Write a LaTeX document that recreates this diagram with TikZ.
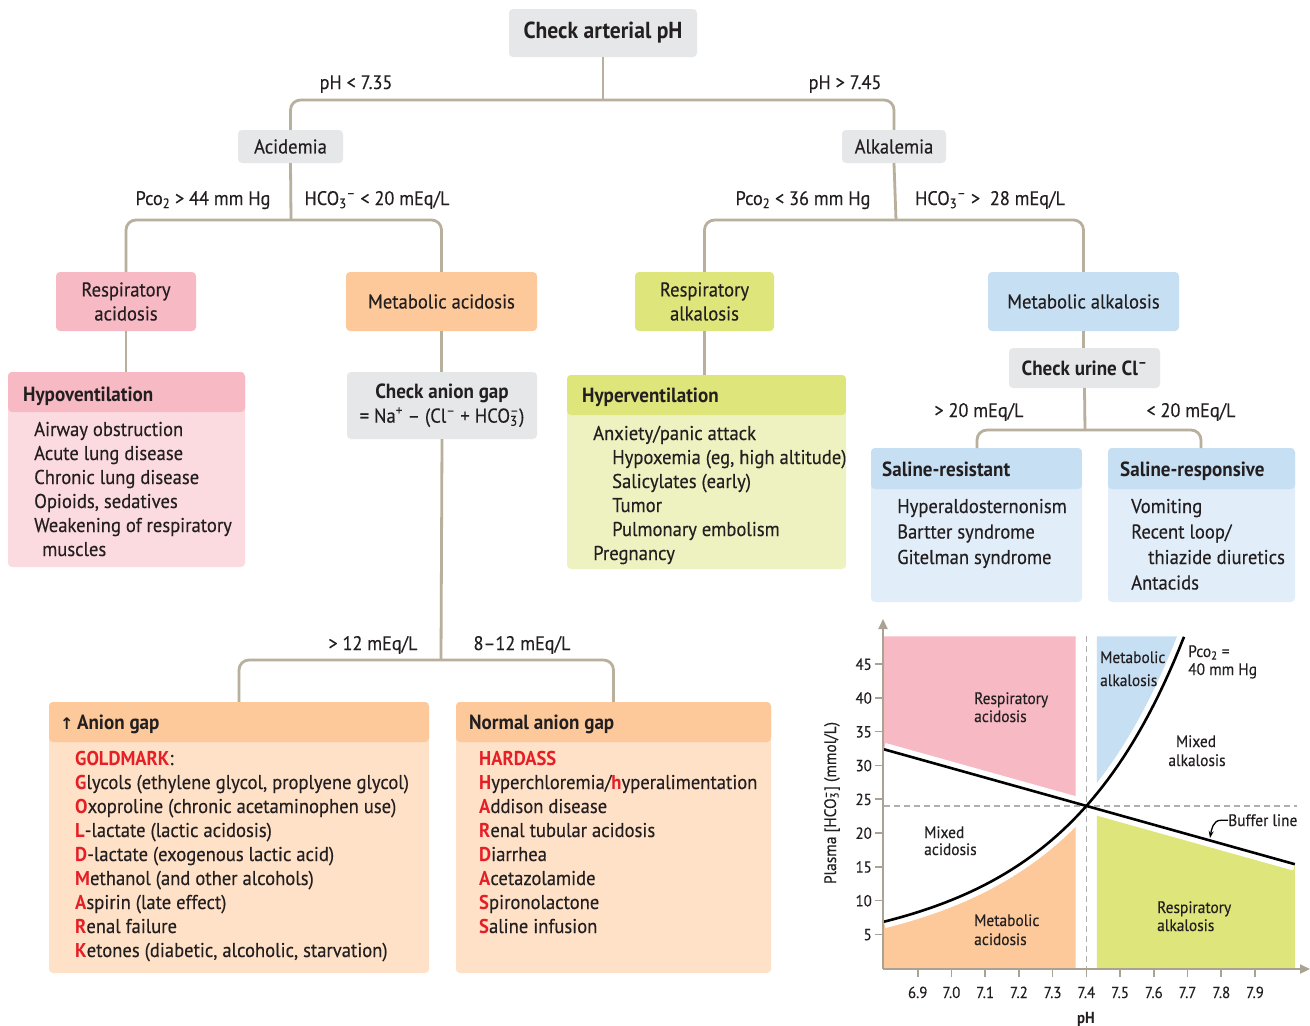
\documentclass[tikz,border=0pt]{standalone}
\usepackage{fontspec}
\setmainfont{PT Sans}[FakeStretch=0.93, UprightFeatures={FakeBold=0.3}]
\newfontfamily\symfont{DejaVu Sans}
\usetikzlibrary{arrows.meta}
\definecolor{txt}{RGB}{35,31,32}
\definecolor{boxgray}{RGB}{230,231,232}
\definecolor{connc}{RGB}{184,175,157}
\definecolor{pinkH}{RGB}{247,185,195}
\definecolor{pinkB}{RGB}{252,219,224}
\definecolor{peachH}{RGB}{253,201,154}
\definecolor{peachB}{RGB}{254,225,199}
\definecolor{limeH}{RGB}{222,229,122}
\definecolor{limeB}{RGB}{238,242,192}
\definecolor{blueH}{RGB}{198,223,243}
\definecolor{blueB}{RGB}{225,237,248}
\definecolor{redt}{RGB}{230,30,38}
\definecolor{dashg}{RGB}{175,175,175}
\definecolor{axisc}{RGB}{170,162,146}
\newcommand\R[1]{\textcolor{redt}{\bfseries #1}}
\newcommand\subsup[2]{{\setbox0\hbox{\textsubscript{#1}}\setbox2\hbox{\textsuperscript{#2}}\ifdim\wd0>\wd2 \rlap{\box2}\box0\else\rlap{\box0}\box2\fi}}
\newcommand\fTitle{\fontsize{23.2}{27}\selectfont\bfseries}
\newcommand\fBox{\fontsize{20}{24}\selectfont}
\newcommand\fLab{\fontsize{19.6}{24}\selectfont}
\newcommand\fItem{\fontsize{20}{24}\selectfont}
\newcommand\fHead{\fontsize{20.5}{24}\selectfont\bfseries}
\newcommand\fGr{\fontsize{16.6}{19}\selectfont}
\newcommand\fTick{\fontsize{16}{19}\selectfont}
\begin{document}
\begin{tikzpicture}[x=1pt,y=-1pt, every node/.style={text=txt},
  connl/.style={draw=connc, line width=2.8pt, rounded corners=10pt},
  gbox/.style={fill=boxgray, rounded corners=4pt, inner sep=0pt, align=center, font=\fBox},
  cbox/.style={rounded corners=4pt, inner sep=0pt, align=center, font=\fBox},
  listbox/.style={rounded corners=4pt, inner sep=0pt},
  hdr/.style 2 args={path picture={\fill[#1] (path picture bounding box.north west) rectangle ([yshift=-#2]path picture bounding box.north east);}},
  hd/.style={font=\fHead, inner sep=0pt},
  item/.style={font=\fItem, inner sep=0pt, anchor=base west},
  lab/.style={font=\fLab, inner sep=0pt, anchor=base},
  gl/.style={font=\fGr, inner sep=0pt, anchor=base west},
  tick/.style={font=\fTick, inner sep=0pt}
]
\useasboundingbox (0,0) rectangle (1310,1026);
\fill[white] (0,0) rectangle (1310,1026);

% ---------- top boxes ----------
\node[gbox, minimum width=188pt, minimum height=48pt, font=\fTitle] (arterial) at (603,33) {Check arterial pH};
\node[gbox, minimum width=105pt, minimum height=33pt] (acidemia) at (290.5,146.5) {Acidemia};
\node[gbox, minimum width=104pt, minimum height=33pt] (alkalemia) at (894,146.5) {Alkalemia};

\node[cbox, fill=pinkH, minimum width=140pt, minimum height=59pt] (racid) at (126,301.5) {Respiratory\\acidosis};
\node[cbox, fill=peachH, minimum width=191pt, minimum height=59pt] (macid) at (441.5,301.5) {Metabolic acidosis};
\node[cbox, fill=limeH, minimum width=139pt, minimum height=59pt] (ralk) at (704.5,301.5) {Respiratory\\alkalosis};
\node[cbox, fill=blueH, minimum width=191pt, minimum height=59pt] (malk) at (1083.5,301.5) {Metabolic alkalosis};

\node[gbox, minimum width=190pt, minimum height=67pt] (agap) at (442,405.5) {{\fHead Check anion gap}\\{\fItem = Na\textsuperscript{+} – (Cl\textsuperscript{–} + HCO\subsup{3}{–})}};

\node[gbox, minimum width=151pt, minimum height=40pt, font=\fHead] (urine) at (1084.5,368) {Check urine Cl\textsuperscript{–}};

% ---------- list boxes ----------
\node[listbox, fill=pinkB, hdr={pinkH}{40pt}, minimum width=237pt, minimum height=195pt] (hypo) at (126.5,469.5) {};
\node[hd, anchor=base west] (hypo-h) at (23,401) {Hypoventilation};
\foreach \px/\py/\t [count=\i] in {34/436/{Airway obstruction}, 34/460/{Acute lung disease}, 34/484/{Chronic lung disease}, 34/508/{Opioids, sedatives}, 34/532/{Weakening of respiratory}, 42/556/{muscles}}
  \node[item] (hypo-\i) at (\px,\py) {\t};

\node[listbox, fill=limeB, hdr={limeH}{40pt}, minimum width=279pt, minimum height=194pt] (hyper) at (706.5,472) {};
\node[hd, anchor=base west] (hyper-h) at (582,402) {Hyperventilation};
\foreach \px/\py/\t [count=\i] in {593/440/{Anxiety/panic attack}, 612/464/{Hypoxemia (eg, high altitude)}, 612/488/{Salicylates (early)}, 612/512/{Tumor}, 612/536/{Pulmonary embolism}, 593/560/{Pregnancy}}
  \node[item] (hyper-\i) at (\px,\py) {\t};

\node[listbox, fill=blueB, hdr={blueH}{41pt}, minimum width=211pt, minimum height=154pt] (sres) at (976.5,525) {};
\node[hd, anchor=base west] (sres-h) at (882,476) {Saline-resistant};
\foreach \px/\py/\t [count=\i] in {897/513/{Hyperaldosternonism}, 897/538.5/{Bartter syndrome}, 897/564/{Gitelman syndrome}}
  \node[item] (sres-\i) at (\px,\py) {\t};

\node[listbox, fill=blueB, hdr={blueH}{41pt}, minimum width=187pt, minimum height=154pt] (sresp) at (1201.5,525) {};
\node[hd, anchor=base west] (sresp-h) at (1120,476) {Saline-responsive};
\foreach \px/\py/\t [count=\i] in {1131/513/{Vomiting}, 1131/538.5/{Recent loop/}, 1148/564/{thiazide diuretics}, 1131/589.5/{Antacids}}
  \node[item] (sresp-\i) at (\px,\py) {\t};

\node[listbox, fill=peachB, hdr={peachH}{40pt}, minimum width=380pt, minimum height=271pt] (hag) at (239,837.5) {};
\node[hd, anchor=base west] (hag-h) at (60,729) {{\symfont\fontsize{16}{20}\selectfont ↑}\,Anion gap};
\foreach \py/\t [count=\i] in {765/{\R{GOLDMARK}:}, 789/{\R{G}lycols (ethylene glycol, proplyene glycol)}, 813/{\R{O}xoproline (chronic acetaminophen use)}, 837/{\R{L}-lactate (lactic acidosis)}, 861/{\R{D}-lactate (exogenous lactic acid)}, 885/{\R{M}ethanol (and other alcohols)}, 909/{\R{A}spirin (late effect)}, 933/{\R{R}enal failure}, 957/{\R{K}etones (diabetic, alcoholic, starvation)}}
  \node[item] (hag-\i) at (75,\py) {\t};

\node[listbox, fill=peachB, hdr={peachH}{40pt}, minimum width=315pt, minimum height=271pt] (nag) at (613.5,837.5) {};
\node[hd, anchor=base west] (nag-h) at (469,729) {Normal anion gap};
\foreach \py/\t [count=\i] in {765/{\R{HARDASS}}, 789/{\R{H}yperchloremia/\R{h}yperalimentation}, 813/{\R{A}ddison disease}, 837/{\R{R}enal tubular acidosis}, 861/{\R{D}iarrhea}, 885/{\R{A}cetazolamide}, 909/{\R{S}pironolactone}, 933/{\R{S}aline infusion}}
  \node[item] (nag-\i) at (479,\py) {\t};

% ---------- connectors ----------
\coordinate (j1) at (603,100);
\draw[connl] (arterial.south) -- (j1);
\draw[connl] (j1) -| (acidemia.north);
\draw[connl] (j1) -| (alkalemia.north);
\coordinate (j2) at (291,220);
\draw[connl] (acidemia.south) -- (j2);
\draw[connl] (j2) -| (racid.north);
\draw[connl] (j2) -| (macid.north);
\coordinate (j3) at (896,220);
\draw[connl] (alkalemia.south) -- (j3);
\draw[connl] (j3) -| (ralk.north);
\draw[connl] (j3) -| (malk.north);
\draw[connl] (racid.south) -- (racid.south |- hypo.north);
\draw[connl] (macid.south) -- (macid.south |- agap.north);
\draw[connl] (ralk.south) -- (ralk.south |- hyper.north);
\draw[connl] (malk.south) -- (malk.south |- urine.north);
\coordinate (j4) at (441,660);
\draw[connl] (agap.south) -- (j4);
\draw[connl] (j4) -| (hag.north);
\draw[connl] (j4) -| (nag.north);
\coordinate (j5) at (1085,430);
\draw[connl] (urine.south) -- (j5);
\draw[connl] (j5) -| (977,448);
\draw[connl] (j5) -| (1201,448);

% ---------- branch labels ----------
\node[lab] (lb1) at (356,89) {pH < 7.35};
\node[lab] (lb2) at (845,89) {pH > 7.45};
\node[lab] (lb3) at (203,205) {Pco\textsubscript{2} > 44 mm Hg};
\node[lab] (lb4) at (377,205) {HCO\textsubscript{3}\textsuperscript{–} < 20 mEq/L};
\node[lab] (lb5) at (803,205) {Pco\textsubscript{2} < 36 mm Hg};
\node[lab] (lb6) at (990,205) {HCO\textsubscript{3}\textsuperscript{–} >\ \ 28 mEq/L};
\node[lab] (lb7) at (979,417) {> 20 mEq/L};
\node[lab] (lb8) at (1191,417) {< 20 mEq/L};
\node[lab] (lb9) at (373,650) {> 12 mEq/L};
\node[lab] (lb10) at (522,650) {8–12 mEq/L};

% ---------- graph ----------
\begin{scope}[shift={(884,968.1)}, x=337.3pt, y=6.757pt]
  \fill[pinkH] (0,49.1) -- (0.568,49.1) -- (0.568,{32.38-13.96*0.568}) -- (0,32.38) -- cycle;
  \fill[peachH] (0,0) -- (0.568,0) -- plot[domain=0.568:0, samples=40] (\x,{24*10^(1.0178*(\x-0.6)+0.1872*(\x-0.6)*(\x-0.6))}) -- cycle;
  \fill[blueH] (0.631,49.1) -- plot[domain=0.631:0.89, samples=40] (\x,{24*10^(1.0178*(\x-0.6)+0.1872*(\x-0.6)*(\x-0.6))}) -- cycle;
  \fill[limeH] (0.631,0) -- (0.631,{32.38-13.96*0.631}) -- (1.218,{32.38-13.96*1.218}) -- (1.218,0) -- cycle;
  \draw[white, line width=13pt] (0,32.38) -- (1.218,{32.38-13.96*1.218});
  \draw[white, line width=13pt] plot[domain=0:0.89, samples=60] (\x,{24*10^(1.0178*(\x-0.6)+0.1872*(\x-0.6)*(\x-0.6))});
  \draw[dashg, line width=1.3pt, dash pattern=on 6pt off 4pt] (0,24) -- (1.224,24);
  \draw[dashg, line width=1.3pt, dash pattern=on 6pt off 4pt] (0.6,49.1) -- (0.6,0);
  \draw[black, line width=2.6pt] (0,32.38) -- (1.218,{32.38-13.96*1.218});
  \draw[black, line width=2.6pt] plot[domain=0:0.89, samples=60] (\x,{24*10^(1.0178*(\x-0.6)+0.1872*(\x-0.6)*(\x-0.6))});
\end{scope}

% axes
\draw[axisc, line width=2.2pt, -{Triangle[width=9pt,length=10pt]}] (883,969) -- (883,619);
\draw[axisc, line width=2.2pt, -{Triangle[width=9pt,length=10pt]}] (883,969) -- (1310,969);
\foreach \h in {5,10,...,45} {
  \draw[axisc, line width=1.6pt] (875,{968.1-6.757*\h}) -- (883,{968.1-6.757*\h});
  \node[tick, anchor=base east] (yt\h) at (872,{968.1-6.757*\h+5.8}) {\h};
}
\foreach \p/\l in {0/6.9,1/7.0,2/7.1,3/7.2,4/7.3,5/7.4,6/7.5,7/7.6,8/7.7,9/7.8,10/7.9} {
  \draw[axisc, line width=1.6pt] ({917.7+33.73*\p},969) -- ({917.7+33.73*\p},977);
  \node[tick, anchor=base] (xt\p) at ({917.7+33.73*\p},998) {\l};
}
\node[tick, font=\fTick\bfseries, anchor=base] (phlab) at (1086,1023) {pH};
\node[tick, font=\fGr, rotate=90] (hlab) at (832,803) {Plasma [HCO\subsup{3}{–}] (mmol/L)};

% graph labels
\node[gl] (g1a) at (974,704) {Respiratory};
\node[gl] (g1b) at (974,722) {acidosis};
\node[gl] (g2a) at (1100,663) {Metabolic};
\node[gl] (g2b) at (1100,686) {alkalosis};
\node[gl] (g3a) at (1188,657) {Pco\textsubscript{2} =};
\node[gl] (g3b) at (1188,675) {40 mm Hg};
\node[gl, anchor=base] (g4a) at (1196,747) {Mixed};
\node[gl, anchor=base] (g4b) at (1197,766) {alkalosis};
\node[gl] (g5a) at (924,838) {Mixed};
\node[gl] (g5b) at (924,855) {acidosis};
\node[gl] (g6a) at (974,926) {Metabolic};
\node[gl] (g6b) at (974,945) {acidosis};
\node[gl] (g7a) at (1157,913) {Respiratory};
\node[gl] (g7b) at (1157,931) {alkalosis};
\node[gl] (buf) at (1228,826) {Buffer line};
\draw[black, line width=1.3pt, -{Stealth[length=7pt,width=5pt]}] (buf.west) -- ++(-7,0) to[out=180,in=80] (1210,838);
\end{tikzpicture}
\end{document}
